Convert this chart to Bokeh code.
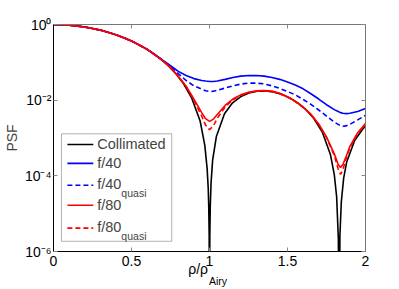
import numpy as np
from bokeh.plotting import figure
from bokeh.models import (FixedTicker, LinearAxis, LogAxis, Label, BoxAnnotation,
                          CustomJSTickFormatter)
from bokeh.embed import file_html
from bokeh.resources import INLINE

# ---------------- data ----------------
coll_x = [0, 0.052, 0.104, 0.157, 0.209, 0.261, 0.313, 0.365, 0.418, 0.470,
          0.522, 0.574, 0.626, 0.679, 0.731, 0.783, 0.835, 0.887, 0.940, 0.970,
          0.985, 0.992, 0.995, 0.998, 1.0, 1.002, 1.005, 1.01, 1.02, 1.044,
          1.096, 1.148, 1.201, 1.253, 1.305, 1.357, 1.409, 1.462, 1.514, 1.566,
          1.618, 1.670, 1.723, 1.775, 1.80, 1.815, 1.826, 1.831, 1.836, 1.845,
          1.86, 1.879, 1.931, 1.984, 2.0]
coll_psf = [1.0, 0.990, 0.9604, 0.9133, 0.850, 0.7748, 0.6897, 0.5993, 0.5075, 0.4175,
            0.3326, 0.2555, 0.1879, 0.1312, 0.0856, 0.0511, 0.02667, 0.01111, 0.002815, 6.4e-4,
            1.53e-4, 4.5e-5, 1.6e-5, 2.6e-6, 1e-9, 2.6e-6, 1.6e-5, 6.5e-5, 2.6e-4, 0.001089,
            0.004356, 0.008497, 0.01245, 0.01547, 0.01717, 0.01742, 0.01636, 0.01425, 0.0115, 0.008507,
            0.005644, 0.003221, 0.001435, 3.68e-4, 1.08e-4, 2.8e-5, 2.2e-6, 1e-9, 2.7e-6, 2.07e-5,
            8.7e-5, 2.275e-4, 8.77e-4, 1.755e-3, 2.03e-3]

grid_x = [0, 0.1, 0.2, 0.3, 0.4, 0.5, 0.6, 0.7, 0.75, 0.8, 0.85, 0.9, 0.95,
          0.975, 1.0, 1.025, 1.05, 1.1, 1.15, 1.2, 1.25, 1.3, 1.35, 1.4, 1.45,
          1.5, 1.55, 1.6, 1.65, 1.7, 1.75, 1.8, 1.825, 1.84, 1.855, 1.875, 1.9,
          1.95, 2.0]
# log10(PSF)
f40_log = [0, -0.016, -0.066, -0.148, -0.269, -0.435, -0.655, -0.94, -1.09, -1.24,
           -1.35, -1.43, -1.48, -1.495, -1.505, -1.505, -1.495, -1.45, -1.40, -1.365,
           -1.35, -1.35, -1.365, -1.40, -1.45, -1.52, -1.60, -1.70, -1.83, -1.97,
           -2.12, -2.25, -2.30, -2.33, -2.345, -2.355, -2.345, -2.30, -2.22]
f40q_log = [0, -0.016, -0.066, -0.148, -0.269, -0.435, -0.655, -0.95, -1.11, -1.30,
            -1.48, -1.62, -1.71, -1.75, -1.77, -1.765, -1.74, -1.68, -1.62, -1.575,
            -1.55, -1.55, -1.57, -1.62, -1.69, -1.77, -1.86, -1.98, -2.11, -2.26,
            -2.42, -2.58, -2.64, -2.68, -2.69, -2.68, -2.64, -2.52, -2.40]
f80_log = [0, -0.016, -0.066, -0.148, -0.269, -0.435, -0.655, -0.955, -1.14, -1.37,
           -1.63, -1.97, -2.33, -2.49, -2.56, -2.50, -2.38, -2.14, -1.97, -1.86,
           -1.79, -1.755, -1.745, -1.76, -1.82, -1.91, -2.03, -2.18, -2.37, -2.63,
           -2.97, -3.42, -3.70, -3.78, -3.70, -3.50, -3.22, -2.86, -2.62]
f80q_log = [0, -0.016, -0.066, -0.148, -0.269, -0.435, -0.655, -0.955, -1.14, -1.375,
            -1.64, -2.00, -2.42, -2.66, -2.78, -2.68, -2.48, -2.18, -1.99, -1.875,
            -1.80, -1.765, -1.755, -1.77, -1.83, -1.92, -2.04, -2.19, -2.38, -2.64,
            -2.99, -3.46, -3.82, -3.96, -3.84, -3.56, -3.25, -2.88, -2.64]

x_ticks = [0, 0.5, 1, 1.5, 2]
y_exps = [0, -2, -4, -6]
legend_labels = ["Collimated", "f/40", "f/40", "f/80", "f/80"]
legend_subs = ["", "", "quasi", "", "quasi"]
x_label_main = "\u03c1/\u03c1"
x_label_sub = "Airy"
y_label = "PSF"

FONT = "Liberation Sans"

p = figure(width=399, height=289, x_range=(0, 2), y_range=(1e-6, 1),
           y_axis_type="log", output_backend="svg", toolbar_location=None,
           min_border_left=51, min_border_right=34, min_border_top=24,
           min_border_bottom=37)
p.outline_line_color = None
p.xgrid.visible = False
p.ygrid.visible = False
p.background_fill_color = "white"
p.border_fill_color = "white"

y_ticks = [10.0 ** e for e in y_exps]
EMPTY = CustomJSTickFormatter(code="return ''")


def style_axis(ax, line_color):
    ax.major_tick_in = 4
    ax.major_tick_out = 0
    ax.minor_tick_line_color = None
    ax.major_tick_line_color = "#888888"
    ax.axis_line_color = line_color
    ax.axis_line_width = 1
    ax.major_label_text_font = FONT
    ax.major_label_text_font_size = "14px"
    ax.major_label_text_color = "black"


# bottom axis
xa = p.xaxis[0]
xa.ticker = FixedTicker(ticks=x_ticks)
style_axis(xa, "black")
xa.major_label_standoff = 4

# left axis with 10^n labels
ya = p.yaxis[0]
ya.ticker = FixedTicker(ticks=y_ticks)
style_axis(ya, "black")
ya.formatter = CustomJSTickFormatter(code="""
const sup = {'-':'\\u207b','0':'\\u2070','1':'\\u00b9','2':'\\u00b2','3':'\\u00b3',
             '4':'\\u2074','5':'\\u2075','6':'\\u2076','7':'\\u2077','8':'\\u2078','9':'\\u2079'};
const e = Math.round(Math.log10(tick));
return '10' + String(e).split('').map(c => sup[c]).join('');
""")
ya.major_label_standoff = 2
ya.axis_label = y_label
ya.axis_label_text_font = FONT
ya.axis_label_text_font_size = "14px"
ya.axis_label_text_font_style = "normal"
ya.axis_label_standoff = 2

# box axes (top / right), ticks only
top = LinearAxis(ticker=FixedTicker(ticks=x_ticks), formatter=EMPTY)
style_axis(top, "#777777")
top.major_label_standoff = 0
p.add_layout(top, "above")
right = LogAxis(ticker=FixedTicker(ticks=y_ticks), formatter=EMPTY)
style_axis(right, "#777777")
right.major_label_standoff = 0
p.add_layout(right, "right")

# x-axis label "rho/rho" with subscript "Airy", as label-only axes below
def label_axis(pos, text, size, standoff):
    ax = LinearAxis(ticker=FixedTicker(ticks=[pos]),
                    formatter=CustomJSTickFormatter(code="return %r;" % text))
    ax.axis_line_color = None
    ax.major_tick_line_color = None
    ax.minor_tick_line_color = None
    ax.major_label_text_font = FONT
    ax.major_label_text_font_size = size
    ax.major_label_text_color = "black"
    ax.major_label_standoff = standoff
    p.add_layout(ax, "below")

label_axis(0.927, x_label_main, "14px", -14)
label_axis(1.054, x_label_sub, "10.5px", -11)

# curves
lw = 1.6
p.line(coll_x, coll_psf, line_color="black", line_width=lw)
p.line(grid_x, 10 ** np.array(f40_log), line_color="#0000ff", line_width=lw)
p.line(grid_x, 10 ** np.array(f40q_log), line_color="#0000ff", line_width=lw, line_dash="5 3")
p.line(grid_x, 10 ** np.array(f80_log), line_color="#ff0000", line_width=lw)
p.line(grid_x, 10 ** np.array(f80q_log), line_color="#ff0000", line_width=lw, line_dash="5 3")

# legend (inside the frame, lower left)
PX = 38.0  # pixels per decade on the y axis
p.add_layout(BoxAnnotation(left=0.051, right=0.758, top=10 ** -2.889, bottom=10 ** -5.73,
                           fill_color="white", fill_alpha=1, line_color="black",
                           line_width=1, level="underlay"))
leg_y = [-3.171, -3.671, -4.25, -4.776, -5.382]
leg_col = ["black", "#0000ff", "#0000ff", "#ff0000", "#ff0000"]
leg_dash = ["solid", "solid", "5 3", "solid", "5 3"]
for lab, sub, ly, c, d in zip(legend_labels, legend_subs, leg_y, leg_col, leg_dash):
    p.line([0.089, 0.255], [10 ** ly, 10 ** ly], line_color=c, line_width=lw, line_dash=d)
    ty = ly + (1.0 / PX if sub else 0)
    p.add_layout(Label(x=0.280, y=10 ** ty, text=lab, text_align="left", text_baseline="middle",
                       text_font=FONT, text_font_size="14.5px"))
    if sub:
        p.add_layout(Label(x=0.435, y=10 ** (ly - 8.0 / PX), text=sub, text_align="left",
                           text_baseline="alphabetic", text_font=FONT, text_font_size="10.5px"))

open("out.html", "w", encoding="utf-8").write(file_html(p, INLINE))
